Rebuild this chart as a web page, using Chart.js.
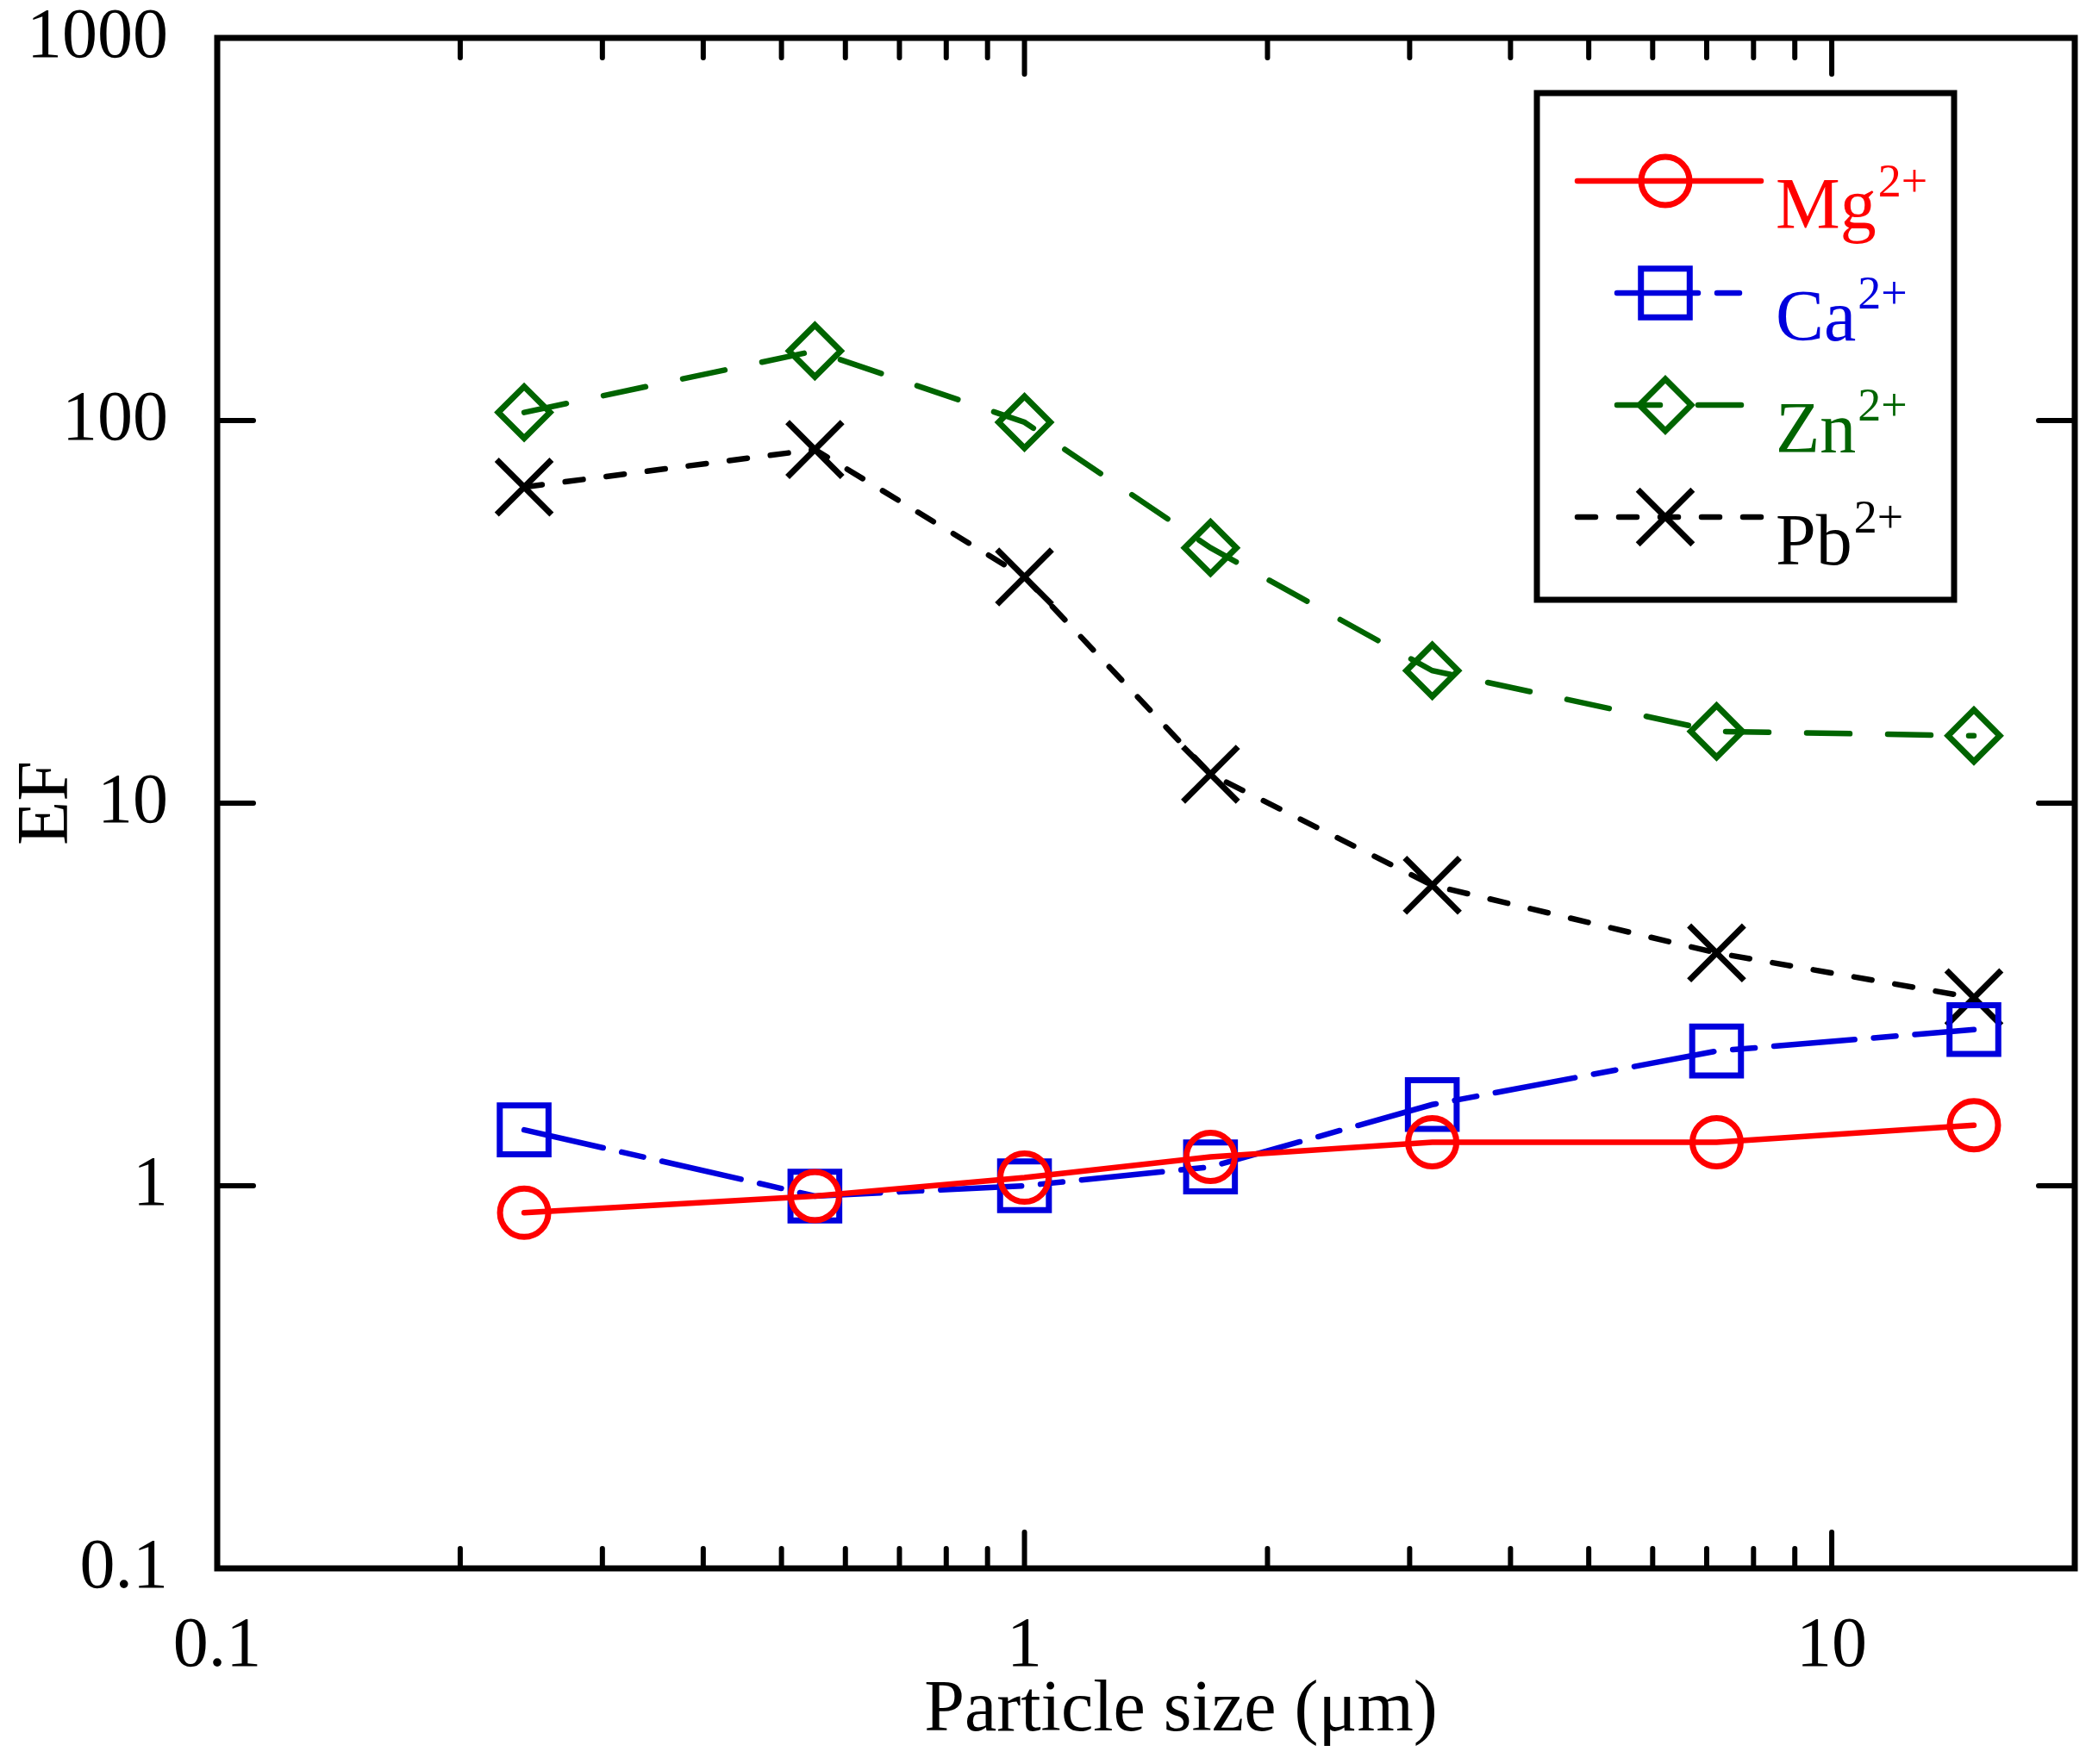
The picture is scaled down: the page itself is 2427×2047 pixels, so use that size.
<!DOCTYPE html>
<html lang="en">
<head>
<meta charset="UTF-8">
<title>EF vs particle size</title>
<script src="https://cdn.jsdelivr.net/npm/chart.js/dist/chart.umd.min.js"></script>
<style>
  html, body { margin: 0; padding: 0; background: #fff; }
  canvas { display: block; }
</style>
</head>
<body>
<canvas id="efChart" width="2427" height="2047"></canvas>
<script>
// particle size midpoints (um)
const sizes = [0.24, 0.55, 1.0, 1.7, 3.2, 7.2, 15];

// enrichment factors
const mgEF = [0.85, 0.94, 1.05, 1.19, 1.30, 1.30, 1.44];
const caEF = [1.40, 0.94, 1.00, 1.12, 1.63, 2.25, 2.56];
const znEF = [105, 152, 99, 46.5, 22.2, 15.4, 15.0];
const pbEF = [67, 84, 39, 11.9, 6.1, 4.06, 3.1];

const ionNames = ["Mg", "Ca", "Zn", "Pb"];
const ionCharge = "2+";

const xMajorTicks = [0.1, 1, 10];
const xMinorTicks = [0.2, 0.3, 0.4, 0.5, 0.6, 0.7, 0.8, 0.9, 2, 3, 4, 5, 6, 7, 8, 9];
const yMajorTicks = [0.1, 1, 10, 100, 1000];

const FONT = "'Liberation Serif', 'Times New Roman', serif";

function toPoints(ys) {
    return sizes.map((x, i) => ({ x: x, y: ys[i] }));
}

// no extra room for half-labels at the ends of the axes
function noEdgePadding(scale) {
    scale.paddingLeft = 0;
    scale.paddingRight = 0;
    scale.paddingTop = 0;
    scale.paddingBottom = 0;
}

// frame, inward tick marks on all four sides, x title
const frameTicks = {
    id: "frameTicks",
    afterDraw(chart) {
        const ctx = chart.ctx;
        const a = chart.chartArea;
        const xs = chart.scales.x;
        const ys = chart.scales.y;
        const major = 42, minor = 23;
        ctx.save();
        ctx.strokeStyle = "#000";
        ctx.lineWidth = 7;
        ctx.lineCap = "square";
        ctx.strokeRect(a.left, a.top, a.right - a.left, a.bottom - a.top);
        ctx.lineWidth = 6;
        ctx.lineCap = "round";
        ctx.beginPath();
        const xTick = (v, len) => {
            const px = xs.getPixelForValue(v);
            ctx.moveTo(px, a.bottom); ctx.lineTo(px, a.bottom - len);
            ctx.moveTo(px, a.top); ctx.lineTo(px, a.top + len);
        };
        xMajorTicks.forEach(v => xTick(v, major));
        xMinorTicks.forEach(v => xTick(v, minor));
        yMajorTicks.forEach(v => {
            const py = ys.getPixelForValue(v);
            ctx.moveTo(a.left, py); ctx.lineTo(a.left + major, py);
            ctx.moveTo(a.right, py); ctx.lineTo(a.right - major, py);
        });
        ctx.stroke();

        ctx.fillStyle = "#000";
        ctx.font = "84px " + FONT;
        ctx.textAlign = "center";
        ctx.textBaseline = "alphabetic";
        ctx.fillText("Particle size (μm)", 1370, 2008);
        ctx.restore();
    }
};

// boxed legend inside the plot, top right
const boxLegend = {
    id: "boxLegend",
    afterDraw(chart) {
        const ctx = chart.ctx;
        const box = { left: 1783, top: 108, right: 2267, bottom: 696 };
        const sampleFrom = [1830, 1876, 1876, 1830];
        const sampleTo = [2043, 2031, 2031, 2043];
        ctx.save();
        ctx.strokeStyle = "#000";
        ctx.lineWidth = 7;
        ctx.strokeRect(box.left, box.top, box.right - box.left, box.bottom - box.top);

        chart.data.datasets.forEach((ds, i) => {
            const y = 210 + i * 130;
            ctx.save();
            ctx.strokeStyle = ds.borderColor;
            ctx.lineWidth = ds.borderWidth;
            ctx.lineCap = "round";
            ctx.setLineDash(ds.borderDash || []);
            ctx.beginPath();
            ctx.moveTo(sampleFrom[i], y);
            ctx.lineTo(sampleTo[i], y);
            ctx.stroke();
            ctx.restore();

            ctx.save();
            ctx.strokeStyle = ds.borderColor;
            ctx.fillStyle = "rgba(0,0,0,0)";
            ctx.lineWidth = ds.pointBorderWidth;
            Chart.helpers.drawPoint(ctx, {
                pointStyle: ds.pointStyle,
                radius: ds.pointRadius,
                rotation: 0,
                borderWidth: ds.pointBorderWidth
            }, 1932, y);
            ctx.restore();

            ctx.fillStyle = ds.borderColor;
            ctx.textBaseline = "alphabetic";
            ctx.textAlign = "left";
            ctx.font = "84px " + FONT;
            ctx.fillText(ionNames[i], 2060, y + 55);
            const w = ctx.measureText(ionNames[i]).width;
            ctx.font = "54px " + FONT;
            ctx.fillText(ionCharge, 2060 + w + 2, y + 18);
        });
        ctx.restore();
    }
};

const datasets = [
    {
        label: "Mg²⁺", data: toPoints(mgEF),
        borderColor: "#ff0000", borderDash: [],
        pointStyle: "circle", pointRadius: 28
    },
    {
        label: "Ca²⁺", data: toPoints(caEF),
        borderColor: "#0000dd", borderDash: [94, 22, 26, 22],
        pointStyle: "rect", pointRadius: 40
    },
    {
        label: "Zn²⁺", data: toPoints(znEF),
        borderColor: "#006400", borderDash: [50, 44],
        pointStyle: "rectRot", pointRadius: 30
    },
    {
        label: "Pb²⁺", data: toPoints(pbEF),
        borderColor: "#000000", borderDash: [21, 27],
        pointStyle: "crossRot", pointRadius: 45
    }
].map(ds => Object.assign(ds, {
    showLine: true,
    tension: 0,
    borderWidth: 6.5,
    borderCapStyle: "round",
    pointBorderColor: ds.borderColor,
    pointBackgroundColor: "rgba(0,0,0,0)",
    pointBorderWidth: 7,
    pointHoverRadius: ds.pointRadius,
    fill: false
}));

new Chart(document.getElementById("efChart").getContext("2d"), {
    type: "scatter",
    data: { datasets: datasets },
    options: {
        responsive: false,
        animation: false,
        devicePixelRatio: 1,
        layout: { autoPadding: false, padding: { left: 0, right: 20, top: 44, bottom: 0 } },
        plugins: {
            legend: { display: false },
            tooltip: { enabled: false }
        },
        scales: {
            x: {
                type: "logarithmic",
                min: 0.1,
                max: 20,
                afterBuildTicks: scale => { scale.ticks = xMajorTicks.map(v => ({ value: v })); },
                afterFit: scale => { scale.height = 2047 - 1820; noEdgePadding(scale); },
                grid: { display: false, drawTicks: false },
                border: { display: false },
                ticks: {
                    color: "#000",
                    padding: 42,
                    maxRotation: 0,
                    autoSkip: false,
                    font: { family: FONT, size: 82 },
                    callback: v => String(v)
                },
                title: { display: false }
            },
            y: {
                type: "logarithmic",
                min: 0.1,
                max: 1000,
                afterBuildTicks: scale => { scale.ticks = yMajorTicks.map(v => ({ value: v })); },
                afterFit: scale => { scale.width = 252; noEdgePadding(scale); },
                grid: { display: false, drawTicks: false },
                border: { display: false },
                ticks: {
                    color: "#000",
                    padding: 57,
                    autoSkip: false,
                    font: { family: FONT, size: 82 },
                    callback: v => String(v)
                },
                title: {
                    display: true,
                    text: "EF",
                    color: "#000",
                    padding: { top: 6, bottom: 0 },
                    font: { family: FONT, size: 84 }
                }
            }
        }
    },
    plugins: [frameTicks, boxLegend]
});
</script>
</body>
</html>
